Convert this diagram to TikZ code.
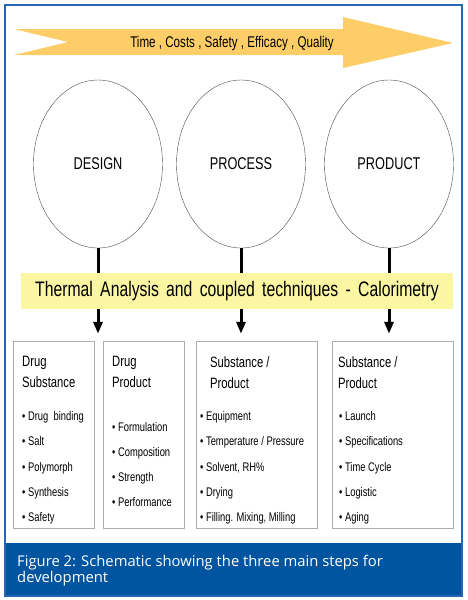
\documentclass[tikz,border=0pt]{standalone}
\usepackage{fontspec}
\setmainfont{Liberation Sans}
\newfontfamily\narrowfont{Liberation Sans}[FakeStretch=0.75]
\newfontfamily\capfont{Open Sans}
\usetikzlibrary{arrows.meta,shapes.geometric}
\definecolor{frameblue}{RGB}{38,102,178}
\definecolor{capblue}{RGB}{0,84,160}
\definecolor{goalorange}{RGB}{253,205,104}
\definecolor{bandyellow}{RGB}{251,246,162}
\newcommand{\bandfont}{\narrowfont\fontsize{21}{21}\selectfont\spaceskip=7.3pt\relax}
\tikzset{
  stage/.style={ellipse, draw=gray!60!black, thin, minimum width=129pt,
    minimum height=168pt, inner sep=0pt, font=\narrowfont\fontsize{17}{17}\selectfont},
  stepbox/.style={draw=gray!65, thin, minimum height=187pt, inner sep=0pt},
  boxtitle/.style={anchor=north west, align=left, inner sep=0pt,
    font=\narrowfont\fontsize{15}{21}\selectfont},
  bulletitem/.style={anchor=base west, inner sep=0pt,
    font=\narrowfont\fontsize{12.5}{12.5}\selectfont},
  flow/.style={-{Triangle[length=12pt,width=9pt]}, line width=3pt, shorten >=7pt},
  band/.style={fill=bandyellow, minimum width=432pt, minimum height=36pt, inner sep=0pt,
    font=\bandfont},
}
\begin{document}
\begin{tikzpicture}[x=1pt,y=-1pt]
  \useasboundingbox (0,0) rectangle (467,600);
  % ---------------- frame and caption ----------------
  \fill[capblue] (5,543) rectangle (462,596);
  \draw[frameblue, line width=2pt] (5,5) rectangle (462,596);
  \node[anchor=north west, align=left, inner sep=0pt, text=white,
    font=\capfont\fontsize{14.8}{16.5}\selectfont] (caption) at (17,554.5)
    {Figure 2: Schematic showing the three main steps for\\development};
  % ---------------- goals arrow ----------------
  \fill[goalorange] (14,29) -- (343,29) -- (343,17) -- (453,43) -- (343,68)
    -- (343,55) -- (14,55) -- (68,42) -- cycle;
  \node[font=\narrowfont\fontsize{15.5}{15.5}\selectfont] (goals) at (232,43)
    {Time , Costs , Safety , Efficacy , Quality};
  % ---------------- three stages ----------------
  \node[stage] (design) at (98,164) {DESIGN};
  \node[stage] (process) at (241,164) {PROCESS};
  \node[stage] (product) at (389,164) {PRODUCT};
  % ---------------- boxes ----------------
  \node[stepbox, minimum width=81pt] (dsub) at (53.5,434.5) {};
  \node[stepbox, minimum width=81pt] (dprod) at (143.5,434.5) {};
  \node[stepbox, minimum width=121pt] (sproc) at (256.5,434.5) {};
  \node[stepbox, minimum width=121pt] (sprod) at (392.5,434.5) {};
  % arrows pass under the band
  \draw[flow] (design.south) -- (design.south |- dsub.north);
  \draw[flow] (process.south) -- (process.south |- sproc.north);
  \draw[flow] (product.south) -- (product.south |- sprod.north);
  \node[band] (band) at (237,291) {Thermal Analysis and coupled techniques - Calorimetry};
  % ---------------- box contents ----------------
  \node[boxtitle] (dsubtitle) at (22,356) {Drug\\Substance};
  \node[boxtitle] (dprodtitle) at (112,356) {Drug\\Product};
  \node[boxtitle] (sproctitle) at (210,356) {Substance /\\Product};
  \node[boxtitle] (sprodtitle) at (338,356) {Substance /\\Product};
  \foreach \t [count=\i] in {Drug\ \ binding, Salt, Polymorph, Synthesis, Safety}
    \node[bulletitem] (dsub\i) at (22,{420.7+25.2*(\i-1)}) {• \t};
  \foreach \t [count=\i] in {Formulation, Composition, Strength, Performance}
    \node[bulletitem] (dprod\i) at (112,{431+25.2*(\i-1)}) {• \t};
  \foreach \t [count=\i] in {Equipment, Temperature / Pressure, {Solvent, RH\%}, Drying,
      {Filling. Mixing, Milling}}
    \node[bulletitem] (sproc\i) at (200,{420.7+25.2*(\i-1)}) {• \t};
  \foreach \t [count=\i] in {Launch, Specifications, Time Cycle, Logistic, Aging}
    \node[bulletitem] (sprod\i) at (339,{420.7+25.2*(\i-1)}) {• \t};
\end{tikzpicture}
\end{document}
